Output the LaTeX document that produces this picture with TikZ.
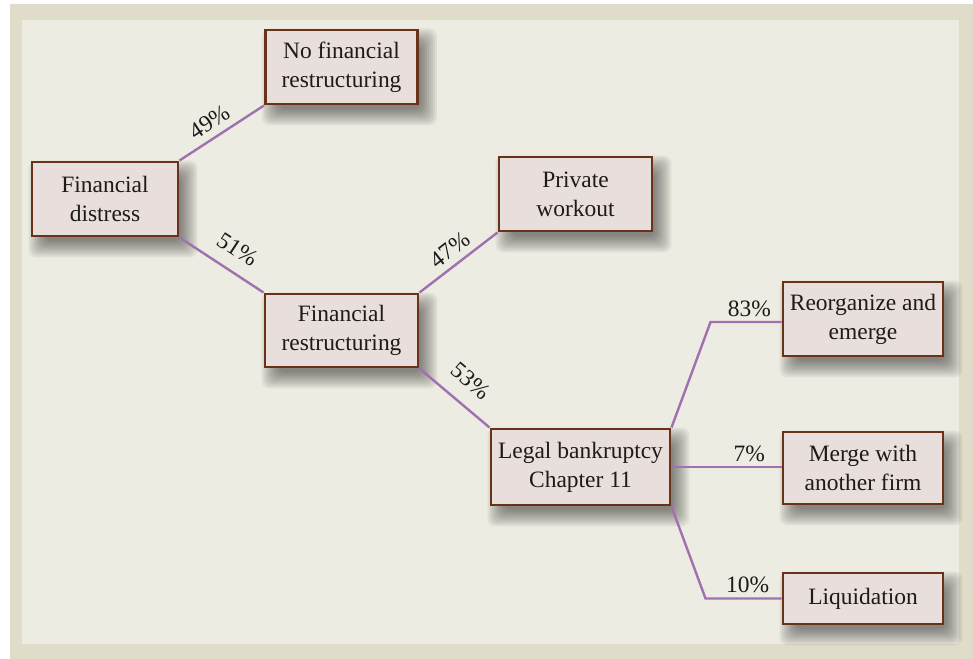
\documentclass[tikz,border=0pt]{standalone}
\usepackage{fontspec}
\setmainfont{Liberation Serif}
\usepackage{tikz}
\usetikzlibrary{calc,backgrounds}
\definecolor{fdbrown}{HTML}{6A3218}
\definecolor{fdfill}{HTML}{E8DFDC}
\definecolor{fdpurple}{HTML}{A070B0}
\definecolor{fdouter}{HTML}{DFDDC9}
\definecolor{fdinner}{HTML}{EDECE2}
\definecolor{fdtext}{HTML}{1C1A1A}
\tikzset{
  boxNode/.style={draw=fdbrown, fill=fdfill, line width=2.2pt, align=center, inner sep=2pt,
    text=fdtext, font=\rmfamily\fontsize{17.6}{21.8}\selectfont},
  branchLine/.style={draw=fdpurple, line width=1.8pt},
  pctLabel/.style={font=\rmfamily\fontsize{17.6}{20}\selectfont, text=fdtext, inner sep=3pt},
  softShadow/.style={fill=black, opacity=0.06, rounded corners=6pt}
}
\begin{document}
\begin{tikzpicture}[x=0.75pt,y=0.75pt]
  \useasboundingbox (0,0) rectangle (973,-659);
  % boxes
  \node[boxNode, minimum width=146*0.75pt, minimum height=74*0.75pt] (dist) at (105,-199) {Financial\\distress};
  \node[boxNode, minimum width=152*0.75pt, minimum height=74*0.75pt] (nofin) at (341.5,-67) {No financial\\restructuring};
  \node[boxNode, minimum width=153*0.75pt, minimum height=73*0.75pt] (restr) at (341.5,-330.5) {Financial\\restructuring};
  \node[boxNode, minimum width=153*0.75pt, minimum height=74*0.75pt] (work) at (575.5,-194) {Private\\workout};
  \node[boxNode, minimum width=179*0.75pt, minimum height=76*0.75pt] (legal) at (580.5,-467) {Legal bankruptcy\\Chapter 11};
  \node[boxNode, minimum width=160*0.75pt, minimum height=74*0.75pt] (reorg) at (863,-319) {Reorganize and\\emerge};
  \node[boxNode, minimum width=160*0.75pt, minimum height=72*0.75pt] (merge) at (863,-468) {Merge with\\another firm};
  \node[boxNode, minimum width=160*0.75pt, minimum height=51*0.75pt] (liq) at (863,-598.5) {Liquidation};
  \begin{pgfonlayer}{background}
    \fill[white] (0,0) rectangle (973,-659);
    \fill[fdouter] (10,-4) rectangle (973,-659);
    \fill[fdinner] (22,-20) rectangle (959,-644);
    % blurred shadows
    \foreach \n in {dist,nofin,restr,work,legal,reorg,merge,liq}{
      \foreach \e in {-6,-4,...,10}{
        \fill[softShadow] ($(\n.south west)+(8-\e,-10-\e)$) rectangle ($(\n.north east)+(8+\e,-10+\e)$);
      }
    }
    % branches
    \draw[branchLine] (dist.north east) -- node[pctLabel, pos=0.455, above, sloped, inner sep=5pt] {49\%} (nofin.south west);
    \draw[branchLine] (dist.south east) -- node[pctLabel, pos=0.55, above, sloped, inner sep=9.5pt] {51\%} (restr.north west);
    \draw[branchLine] (restr.north east) -- node[pctLabel, pos=0.51, above, sloped, inner sep=4.5pt] {47\%} (work.south west);
    \draw[branchLine] (restr.south east) -- node[pctLabel, pos=0.52, above, sloped, inner sep=11pt] {53\%} (legal.north west);
    \draw[branchLine] (legal.north east) -- ($(reorg.west)+(-71,-3)$) -- node[pctLabel, above, xshift=2.5pt] {83\%} ($(reorg.west)+(0,-3)$);
    \draw[branchLine] (legal.east) -- node[pctLabel, above, xshift=17pt] {7\%} (legal.east -| merge.west);
    \draw[branchLine] (legal.south east) -- ($(liq.west)+(-76,0)$) -- node[pctLabel, above, xshift=3pt] {10\%} (liq.west);
  \end{pgfonlayer}
\end{tikzpicture}
\end{document}
